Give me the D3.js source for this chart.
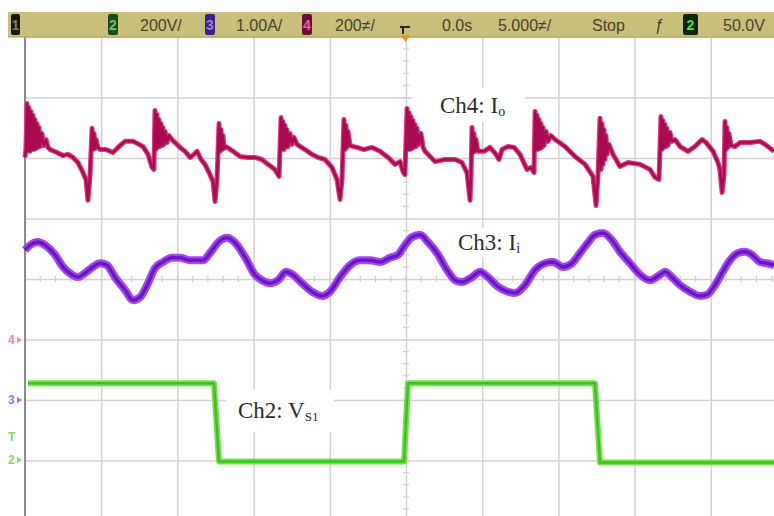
<!doctype html>
<html lang=en>
<head>
  <meta charset="utf-8">
  <title>scope capture</title>
  <style>
body { margin: 0; background: #fff; }
svg { display: block; }
.bar text { font-family: "Liberation Sans", Arial, sans-serif; font-size: 16px; fill: #46442a; }
.lbl { font-family: "Liberation Serif", "Times New Roman", serif; font-size: 23px; fill: #2b2b2b; }
  </style>
</head>
<body>
<div id=content></div>
<script src="https://cdn.jsdelivr.net/npm/d3@7"></script>
<script>
// Ch4 Io in mA (200mA/div), ground marker 1 div below centre
// the ringing after each step is kept as a min/max zigzag
var ch4Io = [
  [-25.00,602],[-24.94,628],[-24.87,780],[-24.80,622],[-24.74,767],[-24.67,622],[-24.61,754],[-24.54,628],[-24.48,741],
  [-24.41,628],[-24.35,727],[-24.28,631],[-24.21,714],[-24.15,635],[-24.08,701],[-24.02,638],[-23.89,681],[-23.76,641],
  [-23.62,661],[-23.49,635],[-23.36,628],[-22.90,618],[-22.51,608],[-22.18,612],[-21.85,602],[-21.52,585],[-21.20,552],
  [-21.00,529],[-20.87,460],[-20.74,536],[-20.60,698],[-20.54,628],[-20.47,681],[-20.41,631],[-20.34,661],[-20.21,635],
  [-20.08,628],[-19.69,628],[-19.23,618],[-18.83,638],[-18.44,655],[-17.91,655],[-17.52,645],[-17.26,638],[-16.93,612],
  [-16.67,569],[-16.54,562],
  [-16.47,757],[-16.41,628],[-16.34,744],[-16.28,635],[-16.21,727],[-16.14,638],[-16.08,714],[-16.01,641],[-15.95,701],
  [-15.88,645],[-15.81,688],[-15.68,651],[-15.55,674],[-15.36,661],[-14.83,635],[-14.50,622],[-14.17,602],[-13.91,612],
  [-13.71,622],[-13.45,595],[-13.19,579],[-12.86,545],[-12.66,522],[-12.53,456],[-12.40,529],[-12.27,714],[-12.20,622],
  [-12.14,694],[-12.07,628],[-12.01,674],[-11.94,631],[-11.81,638],[-11.35,622],[-10.89,605],[-10.37,602],[-9.91,602],
  [-9.45,595],[-9.06,579],[-8.60,562],[-8.33,539],
  [-8.20,734],[-8.14,628],[-8.07,721],[-8.01,628],[-7.94,708],[-7.87,635],[-7.81,694],[-7.74,638],[-7.61,681],[-7.48,645],
  [-7.35,668],[-7.15,645],[-6.63,628],[-6.17,612],[-5.77,602],[-5.32,595],[-4.86,569],[-4.53,529],[-4.33,463],[-4.20,529],
  [-4.07,727],[-4.00,628],[-3.94,708],[-3.87,635],[-3.81,688],[-3.67,641],[-3.22,635],[-2.76,628],[-2.23,635],[-1.71,622],
  [-1.18,602],[-0.72,579],[-0.39,588],[-0.20,555],[-0.07,545],
  [0.07,764],[0.13,628],[0.20,750],[0.26,628],[0.33,737],[0.39,631],[0.46,724],[0.52,635],[0.59,711],[0.66,638],[0.72,698],
  [0.85,645],[0.98,681],[1.12,635],[1.25,622],[1.90,588],[2.56,595],[3.22,595],[3.67,585],[4.00,552],[4.20,460],[4.27,545],
  [4.33,701],[4.40,618],[4.46,681],[4.53,622],[4.59,661],[4.72,622],[5.12,622],[5.51,635],[5.91,612],[6.10,595],[6.30,628],
  [6.69,638],[7.09,635],[7.48,612],[7.94,562],[8.20,569],[8.40,552],
  [8.47,754],[8.53,628],[8.60,741],[8.66,628],[8.73,727],[8.79,631],[8.86,714],[8.92,635],[8.99,701],[9.06,641],[9.19,688],
  [9.32,655],[9.51,674],[9.78,661],[10.43,638],[11.09,605],[11.75,579],[12.27,539],[12.47,443],[12.60,545],[12.73,731],
  [12.80,562],[12.86,714],[12.93,579],[12.99,694],[13.06,595],[13.12,674],[13.19,612],[13.32,645],[13.58,612],[14.04,572],
  [14.57,585],[15.36,579],[16.01,562],[16.34,536],[16.60,529],
  [16.73,737],[16.80,628],[16.86,724],[16.93,635],[16.99,711],[17.06,638],[17.12,698],[17.19,641],[17.32,684],[17.45,655],
  [17.65,661],[17.98,638],[18.50,622],[18.96,638],[19.42,661],[19.69,651],[20.15,622],[20.47,585],[20.60,562],[20.74,486],
  [20.87,545],[20.93,721],[21.00,628],[21.06,701],[21.13,635],[21.19,681],[21.33,641],[21.59,638],[21.92,651],[22.57,651],
  [23.23,655],[23.56,645],[24.15,622]];

// Ch3 Ii in A (1.00A/div), ground marker 2 div below centre
var ch3Ii = [[-25.00,2.48],[-24.67,2.56],[-24.15,2.61],[-23.69,2.56],[-23.03,2.40],[-22.51,2.20],[-21.92,2.07],[-21.52,2.03],
  [-21.06,2.10],[-20.54,2.20],[-20.08,2.26],[-19.62,2.23],[-19.10,2.03],[-18.44,1.82],[-17.91,1.65],[-17.45,1.70],[-16.93,1.93],
  [-16.47,2.18],[-15.95,2.28],[-15.36,2.35],[-14.83,2.35],[-14.17,2.31],[-13.32,2.31],[-12.86,2.43],[-12.34,2.60],[-11.75,2.68],
  [-11.22,2.60],[-10.56,2.36],[-9.91,2.07],[-9.45,1.98],[-8.92,1.93],[-8.40,1.98],[-7.87,2.12],[-7.42,2.07],[-6.82,1.93],
  [-6.17,1.79],[-5.51,1.72],[-4.99,1.79],[-4.33,2.03],[-3.67,2.23],[-3.02,2.31],[-2.36,2.31],[-1.71,2.28],[-1.05,2.35],
  [-0.52,2.40],[-0.07,2.56],[0.39,2.69],[0.92,2.73],[1.44,2.61],[2.03,2.43],[2.69,2.15],[3.22,1.98],[3.67,1.95],[4.33,2.03],
  [4.86,2.12],[5.38,2.03],[6.04,1.87],[6.69,1.79],[7.15,1.77],[7.81,1.90],[8.47,2.15],[9.12,2.26],[9.65,2.28],[10.30,2.20],
  [10.89,2.26],[11.42,2.43],[11.94,2.60],[12.40,2.73],[12.93,2.76],[13.52,2.64],[14.04,2.45],[14.70,2.26],[15.36,2.07],
  [16.01,1.98],[16.67,2.07],[16.99,2.12],[17.45,2.03],[17.98,1.90],[18.64,1.79],[19.29,1.72],[19.75,1.74],[20.28,1.90],
  [20.74,2.10],[21.26,2.31],[21.79,2.43],[22.25,2.45],[22.70,2.40],[23.23,2.28],[23.69,2.26],[24.15,2.23]];

// Ch2 Vs1 in V (200V/div), ground marker 3 div below centre
var ch2Vs1 = [[-24.80,255],[-12.60,255],[-12.27,-3],[-0.13,-3],[0.13,255],[12.40,255],[12.73,-7],[24.15,-7]];

// status line of the scope
var barTexts = ["200V/", "1.00A/", "200≠/", "0.0s", "5.000≠/", "Stop", "ƒ", "50.0V"];
var barBoxes = ["1", "2", "3", "4", "2"];
var markers = ["4", "3", "T", "2"];

var W = 774, H = 516;

var svg = d3.select("#content").append("svg")
  .attr("width", W).attr("height", H);

// 10 div across (right edge is cut off), 8 div down
var x = d3.scaleLinear().domain([-25, 25]).range([25, 787]);
var yDiv = d3.scaleLinear().domain([-4, 4]).range([521, 37]);

// per channel: units/div and ground offset in div
function chScale(perDiv, offs) {
  return function(v) { return yDiv(v / perDiv + offs); };
}
var y4 = chScale(200, -1), y3 = chScale(1, -2), y2 = chScale(200, -3);

// grid
svg.append("g")
  .attr("transform", "translate(0,37)")
  .call(d3.axisBottom(x).tickValues(d3.range(-25, 26, 5)).tickSize(H - 37).tickFormat(""));
svg.append("g")
  .attr("transform", "translate(25,0)")
  .call(d3.axisRight(yDiv).tickValues(d3.range(-4, 5)).tickSize(W).tickFormat(""));
svg.selectAll(".domain").remove();
svg.selectAll(".tick line").attr("stroke", "#d2d2d2").attr("stroke-width", 1.5);

// minor ticks on the centre lines
svg.append("g").selectAll("line")
  .data(d3.range(-25, 25.01, 1)).join("line")
  .attr("x1", d => x(d)).attr("x2", d => x(d))
  .attr("y1", yDiv(0) - 3).attr("y2", yDiv(0) + 3)
  .attr("stroke", "#cfcfcf").attr("stroke-width", 1.2);
svg.append("g").selectAll("line")
  .data(d3.range(-4, 4.01, 0.2)).join("line")
  .attr("y1", d => yDiv(d)).attr("y2", d => yDiv(d))
  .attr("x1", x(0) - 3).attr("x2", x(0) + 3)
  .attr("stroke", "#cfcfcf").attr("stroke-width", 1.2);

// left edge of the screen
svg.append("line")
  .attr("x1", x(-25)).attr("x2", x(-25)).attr("y1", 37).attr("y2", H)
  .attr("stroke", "#8c8c8c").attr("stroke-width", 2);

// white patches behind the pasted labels
var patches = [[412, 88, 113, 34], [450, 228, 80, 29], [226, 390, 108, 42]];
svg.append("g").selectAll("rect").data(patches).join("rect")
  .attr("x", d => d[0]).attr("y", d => d[1]).attr("width", d => d[2]).attr("height", d => d[3])
  .attr("fill", "#fff");

// traces
function trace(data, ys, outer, inner, wo, wi, curve) {
  var line = d3.line().x(d => x(d[0])).y(d => ys(d[1])).curve(curve || d3.curveLinear);
  var g = svg.append("g");
  g.append("path").attr("d", line(data)).attr("fill", "none")
    .attr("stroke", outer).attr("stroke-width", wo).attr("stroke-linejoin", "round");
  g.append("path").attr("d", line(data)).attr("fill", "none")
    .attr("stroke", inner).attr("stroke-width", wi).attr("stroke-linejoin", "round");
}
trace(ch4Io, y4, "#d8387e", "#aa0a50", 5, 2.5);
trace(ch3Ii, y3, "#a648f2", "#6c16c4", 8, 3.5, d3.curveMonotoneX);
trace(ch2Vs1, y2, "#74e250", "#40c01e", 6, 2.5);

// labels
function label(px, py, main, sub, subSize) {
  var t = svg.append("text").attr("class", "lbl").attr("x", px).attr("y", py);
  t.append("tspan").text(main);
  t.append("tspan").attr("font-size", subSize).attr("dy", 3).text(sub);
}
label(440, 113, "Ch4: I", "o", 14);
label(458, 250, "Ch3: I", "i", 14);
label(238, 418, "Ch2: V", "S1", 13);

// status bar
var bar = svg.append("g").attr("class", "bar");
bar.append("rect").attr("x", 8).attr("y", 12).attr("width", W - 8).attr("height", 25).attr("fill", "#c9bf7b");
bar.append("line").attr("x1", 8).attr("x2", W).attr("y1", 37).attr("y2", 37)
  .attr("stroke", "#a49c60").attr("stroke-width", 1);

var boxX = [11, 108, 205, 302, 683], boxW = [9, 10, 10, 10, 15];
var boxFill = ["#161510", "#1c4a1e", "#3a1f85", "#6e0d3a", "#0c2410"];
var boxInk = ["#7d7b58", "#6ac06a", "#9a80e0", "#e060a0", "#52e040"];
barBoxes.forEach(function(b, i) {
  bar.append("rect").attr("x", boxX[i]).attr("y", 14).attr("width", boxW[i]).attr("height", 21)
    .attr("rx", 2).attr("fill", boxFill[i]);
  bar.append("text").attr("x", boxX[i] + boxW[i] / 2).attr("y", 30).attr("text-anchor", "middle")
    .style("font-size", "14px").style("font-weight", "bold").style("fill", boxInk[i]).text(b);
});

var textX = [140, 236, 335, 442, 498, 592, 655, 723];
barTexts.forEach(function(s, i) {
  bar.append("text").attr("x", textX[i]).attr("y", 31).text(s);
});

// trigger point marker
svg.append("path").attr("d", "M400,27h10M403,27v7").attr("stroke", "#2a2414").attr("stroke-width", 2).attr("fill", "none");
svg.append("path").attr("d", "M401,35h9l-4.5,7z").attr("fill", "#e8901e");

// channel ground markers on the left
var markY = [340, 400, 437, 460], markCol = ["#e46a9e", "#8a4ad8", "#68cf48", "#68cf48"];
markers.forEach(function(m, i) {
  svg.append("text").attr("x", 8).attr("y", markY[i] + 4)
    .style("font-family", "Liberation Sans, sans-serif").style("font-size", "12px").style("font-weight", "bold")
    .style("fill", markCol[i]).style("opacity", 0.8).text(m);
  if (m != "T")
    svg.append("path").attr("d", "M17," + (markY[i] - 3) + "l5,3l-5,3z").attr("fill", markCol[i]).attr("opacity", 0.8);
});
</script>
</body>
</html>
